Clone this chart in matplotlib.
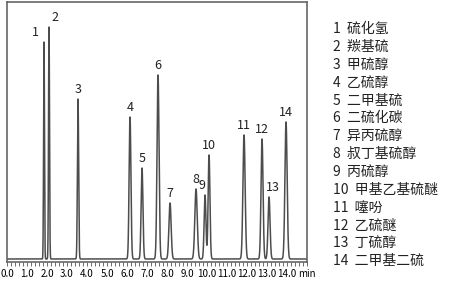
import numpy as np
import matplotlib
matplotlib.use("Agg")
import matplotlib.pyplot as plt
from matplotlib.ticker import MultipleLocator

plt.rcParams['font.family'] = ['Noto Sans CJK SC', 'DejaVu Sans']

# ---------------- peak table ---------------- #
peak_ids = [str(i) for i in range(1, 15)]
ret_times = [1.85, 2.1, 3.55, 6.15, 6.75, 7.55, 8.15, 9.45, 9.9, 10.1, 11.85, 12.75, 13.1, 13.95]
heights = [217, 232, 160, 142, 91, 184, 56, 70, 64, 104, 124, 120, 62, 137]
widths = [0.022, 0.024, 0.03, 0.045, 0.045, 0.05, 0.055, 0.06, 0.045, 0.045, 0.055, 0.05, 0.05, 0.055]
names = ["硫化氢", "羰基硫", "甲硫醇", "乙硫醇", "二甲基硫", "二硫化碳", "异丙硫醇",
         "叔丁基硫醇", "丙硫醇", "甲基乙基硫醚", "噻吩", "乙硫醚", "丁硫醇", "二甲基二硫"]
tick_vals = np.arange(0, 16, 1.0)
tick_labels = ["%.1f" % v for v in tick_vals[:-1]] + ["min"]

# label nudges in points (x, y) for crowded peaks
nudge = {0: (-6, 0), 1: (4, 0), 8: (-2, 0), 12: (3, 0)}

# ---------------- build trace ---------------- #
t = np.linspace(0, 15, 6000)
signal = np.zeros_like(t)
for rt, h, w in zip(ret_times, heights, widths):
    signal += h * np.exp(-0.5 * ((t - rt) / w) ** 2)

fig = plt.figure(figsize=(4.5, 2.84), dpi=100)
ax = fig.add_axes([0.0156, 0.0775, 0.6667, 0.9155])
ax.plot(t, signal, color="#4d4d4d", lw=1.1)

ax.set_xlim(0, 15)
ax.set_ylim(-3, 257)
ax.set_yticks([])
ax.set_xticks(tick_vals)
ax.set_xticklabels(tick_labels, fontsize=7)
ax.xaxis.set_minor_locator(MultipleLocator(0.2))
ax.tick_params(axis="x", which="both", direction="out", length=3, width=0.6,
               color="#555555", pad=2)
for s in ax.spines.values():
    s.set_color("#666666")
    s.set_linewidth(1.2)

for i, (rt, h) in enumerate(zip(ret_times, heights)):
    dx, dy = nudge.get(i, (0, 0))
    ax.annotate(peak_ids[i], (rt, h), xytext=(dx, 2 + dy), textcoords="offset points",
                ha="center", va="bottom", fontsize=9, color="#222222")

# compound list on the right
for i, nm in enumerate(names):
    y = 1 - (29 + i * 17.85) / 284
    fig.text(333 / 450, y, "%s  %s" % (peak_ids[i], nm), fontsize=10,
             va="center", ha="left", color="#222222")

fig.savefig("out.png", dpi=100)
